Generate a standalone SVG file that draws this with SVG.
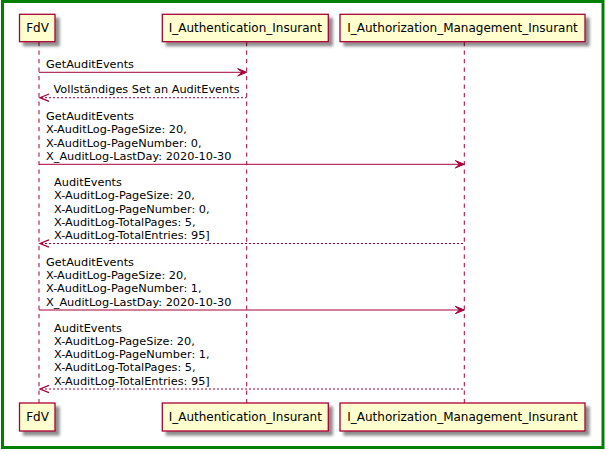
<svg xmlns="http://www.w3.org/2000/svg" width="605" height="452" viewBox="0 0 605 452">
<style>
.box{fill:#FEFECE;stroke:#A80036;stroke-width:1.3}
.pt{font-family:"DejaVu Sans",sans-serif;font-size:12px;fill:#000;text-anchor:middle}
.mt{font-family:"DejaVu Sans",sans-serif;font-size:11.3px;fill:#000}
.life{stroke:#A80036;stroke-width:1;stroke-dasharray:4.25,4.25;fill:none}
.msg{stroke:#A80036;stroke-width:1;fill:none}
.ret{stroke:#A80036;stroke-width:1;stroke-dasharray:2,2;fill:none}
.head{fill:#A80036;stroke:#A80036;stroke-width:1}
.ohead{fill:none;stroke:#A80036;stroke-width:1.3}
</style>
<defs>
<filter id="sh" x="-20%" y="-30%" width="150%" height="180%">
<feGaussianBlur in="SourceAlpha" stdDeviation="1.7"/>
<feOffset dx="3.5" dy="3.5" result="b"/>
<feComponentTransfer><feFuncA type="linear" slope="0.45"/></feComponentTransfer>
<feMerge><feMergeNode/><feMergeNode in="SourceGraphic"/></feMerge>
</filter>
</defs>
<rect x="0" y="0" width="605" height="452" fill="#fff"/>
<rect x="2.5" y="1.5" width="600.5" height="446" fill="none" stroke="#008000" stroke-width="3"/>
<g id="lifelines">
<line class="life" x1="39" y1="42" x2="39" y2="403"/>
<line class="life" x1="246.7" y1="42" x2="246.7" y2="403"/>
<line class="life" x1="464.3" y1="42" x2="464.3" y2="403"/>
</g>
<g id="FdV">
<rect class="box" x="19.5" y="14.3" width="35.5" height="27.4" filter="url(#sh)"/>
<text class="pt" x="37.5" y="32.3">FdV</text>
<rect class="box" x="19.5" y="403" width="35.5" height="28" filter="url(#sh)"/>
<text class="pt" x="37.5" y="421.3">FdV</text>
</g>
<g id="I_Authentication_Insurant">
<rect class="box" x="162.3" y="14.3" width="166" height="27.4" filter="url(#sh)"/>
<text class="pt" x="245.3" y="32.3">I_Authentication_Insurant</text>
<rect class="box" x="162.3" y="403" width="166" height="28" filter="url(#sh)"/>
<text class="pt" x="245.3" y="421.3">I_Authentication_Insurant</text>
</g>
<g id="I_Authorization_Management_Insurant">
<rect class="box" x="340" y="14.3" width="245" height="27.4" filter="url(#sh)"/>
<text class="pt" x="462.5" y="32.3">I_Authorization_Management_Insurant</text>
<rect class="box" x="340" y="403" width="245" height="28" filter="url(#sh)"/>
<text class="pt" x="462.5" y="421.3">I_Authorization_Management_Insurant</text>
</g>
<g id="connectors">
<line class="msg" x1="39" y1="72.3" x2="245" y2="72.3"/>
<polygon class="head" points="237.7,68.6 246.7,72.3 237.7,76 242,72.3"/>
<text class="mt" x="46" y="68">GetAuditEvents</text>

<line class="ret" x1="41" y1="97.7" x2="246.7" y2="97.7"/>
<polyline class="ohead" points="49,94 40,97.7 49,101.4"/>
<text class="mt" x="53.5" y="93.3">Vollständiges Set an AuditEvents</text>

<line class="msg" x1="39" y1="164.3" x2="462.5" y2="164.3"/>
<polygon class="head" points="455.3,160.6 464.3,164.3 455.3,168 459.6,164.3"/>
<text class="mt"><tspan x="46" y="120">GetAuditEvents</tspan><tspan x="46" y="133.3">X-AuditLog-PageSize: 20,</tspan><tspan x="46" y="146.6">X-AuditLog-PageNumber: 0,</tspan><tspan x="46" y="160">X_AuditLog-LastDay: 2020-10-30</tspan></text>

<line class="ret" x1="41" y1="243.5" x2="464.3" y2="243.5"/>
<polyline class="ohead" points="49,239.8 40,243.5 49,247.2"/>
<text class="mt"><tspan x="54" y="186">AuditEvents</tspan><tspan x="54" y="199.3">X-AuditLog-PageSize: 20,</tspan><tspan x="54" y="212.6">X-AuditLog-PageNumber: 0,</tspan><tspan x="54" y="225.9">X-AuditLog-TotalPages: 5,</tspan><tspan x="54" y="239.2">X-AuditLog-TotalEntries: 95]</tspan></text>

<line class="msg" x1="39" y1="310" x2="462.5" y2="310"/>
<polygon class="head" points="455.3,306.3 464.3,310 455.3,313.7 459.6,310"/>
<text class="mt"><tspan x="46" y="265.8">GetAuditEvents</tspan><tspan x="46" y="279.1">X-AuditLog-PageSize: 20,</tspan><tspan x="46" y="292.4">X-AuditLog-PageNumber: 1,</tspan><tspan x="46" y="305.7">X_AuditLog-LastDay: 2020-10-30</tspan></text>

<line class="ret" x1="41" y1="389" x2="464.3" y2="389"/>
<polyline class="ohead" points="49,385.3 40,389 49,392.7"/>
<text class="mt"><tspan x="54" y="331.5">AuditEvents</tspan><tspan x="54" y="344.8">X-AuditLog-PageSize: 20,</tspan><tspan x="54" y="358.1">X-AuditLog-PageNumber: 1,</tspan><tspan x="54" y="371.4">X-AuditLog-TotalPages: 5,</tspan><tspan x="54" y="384.7">X-AuditLog-TotalEntries: 95]</tspan></text>
</g>
</svg>
